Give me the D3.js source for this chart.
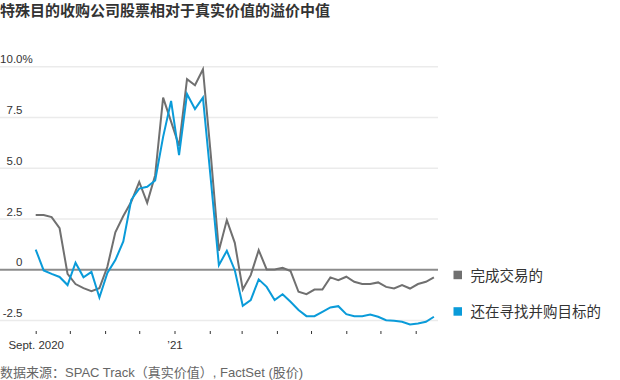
<!DOCTYPE html>
<html><head><meta charset="utf-8">
<script src="https://cdn.jsdelivr.net/npm/d3@7"></script>
<style>
body{margin:0;background:#fff;}
svg{display:block;}
</style></head>
<body><svg id="c" width="620" height="380"></svg>
<script>
const title = "特殊目的收购公司股票相对于真实价值的溢价中值";
const source = "数据来源：SPAC Track（真实价值）, FactSet (股价)";
const dates = ["2020-09-01","2020-09-08","2020-09-15","2020-09-22","2020-09-29","2020-10-06","2020-10-13","2020-10-20","2020-10-27","2020-11-03","2020-11-10","2020-11-17","2020-11-24","2020-12-01","2020-12-08","2020-12-15","2020-12-22","2020-12-29","2021-01-05","2021-01-12","2021-01-19","2021-01-26","2021-02-02","2021-02-09","2021-02-16","2021-02-23","2021-03-02","2021-03-09","2021-03-16","2021-03-23","2021-03-30","2021-04-06","2021-04-13","2021-04-20","2021-04-27","2021-05-04","2021-05-11","2021-05-18","2021-05-25","2021-06-01","2021-06-08","2021-06-15","2021-06-22","2021-06-29","2021-07-06","2021-07-13","2021-07-20","2021-07-27","2021-08-03","2021-08-10","2021-08-17"];
const completed = [2.7,2.7,2.6,2.05,-0.2,-0.7,-0.9,-1.05,-0.9,0.15,1.85,2.65,3.35,4.33,3.3,4.66,8.48,7.3,6.1,9.39,9.09,9.88,5.6,0.94,2.45,1.33,-0.97,-0.26,0.97,0.02,0.02,0.1,-0.06,-1.08,-1.2,-0.97,-0.97,-0.37,-0.51,-0.34,-0.59,-0.7,-0.7,-0.62,-0.84,-0.92,-0.75,-0.92,-0.7,-0.59,-0.37];
const searching = [1.0,-0.03,-0.2,-0.35,-0.75,0.35,-0.37,-0.1,-1.36,-0.15,0.48,1.4,3.45,4.0,4.09,4.4,6.55,8.32,5.65,8.66,7.92,8.48,4.4,0.23,0.94,-0.02,-1.77,-1.49,-0.47,-0.84,-1.49,-1.2,-1.57,-1.98,-2.28,-2.28,-2.07,-1.85,-1.79,-2.18,-2.28,-2.28,-2.2,-2.31,-2.48,-2.51,-2.56,-2.69,-2.64,-2.56,-2.31];
const seriesNames = ["完成交易的","还在寻找并购目标的"];
const seriesColors = ["#707070","#0a9bd9"];
const yTicks = [-2.5,0,2.5,5,7.5,10];
const yTickLabels = ["-2.5","0","2.5","5.0","7.5","10.0"];
const xLabels = {"2020-09":"Sept. 2020","2021-01":"\u201921"};

const svg = d3.select("#c");
const parse = d3.timeParse("%Y-%m-%d");
const dts = dates.map(parse);
const x = d3.scaleTime().domain([dts[0], dts[dts.length-1]]).range([35.7, 433.9]);
const y = d3.scaleLinear().domain([-2.5,10]).range([320.6,66.8]);
const axisFont = "'Liberation Sans Narrow', 'Liberation Sans', sans-serif";

svg.append("text").attr("x",0).attr("y",15.5)
  .attr("font-family","'Noto Sans CJK SC', sans-serif").attr("font-weight","bold")
  .attr("font-size",15).attr("fill","#333").text(title);

// grid
svg.append("g").selectAll("line").data(yTicks.filter(d=>d!==0)).join("line")
  .attr("x1",0).attr("x2",438).attr("y1",d=>y(d)).attr("y2",d=>y(d))
  .attr("stroke","#ebebeb").attr("stroke-width",1.5);
svg.append("line").attr("x1",0).attr("x2",438).attr("y1",y(0)).attr("y2",y(0))
  .attr("stroke","#8c8c8c").attr("stroke-width",2);

// y labels
const yl = svg.append("g").attr("font-family",axisFont)
  .attr("font-size",11.5).attr("fill","#333");
yTicks.forEach((t,i)=>{
  yl.append("text").attr("x",22.5).attr("y",y(t)-3.5).attr("text-anchor","end").text(yTickLabels[i]);
  if(t===10) yl.append("text").attr("x",22.5).attr("y",y(t)-3.5).text("%");
});

// x axis ticks
const months = d3.timeMonth.range(parse("2020-09-01"), parse("2021-08-02"));
const xa = svg.append("g").attr("transform","translate(0,331)")
  .call(d3.axisBottom(x).tickValues(months).tickSize(3).tickPadding(7)
    .tickFormat(d=>xLabels[d3.timeFormat("%Y-%m")(d)]||""));
xa.select(".domain").remove();
xa.selectAll(".tick line").attr("stroke","#333");
xa.selectAll(".tick text").attr("font-family",axisFont)
  .attr("font-size",11.5).attr("fill","#333");

// lines
const line = d3.line().x((d,i)=>x(dts[i])).y(d=>y(d));
[completed, searching].forEach((s,k)=>{
  svg.append("path").datum(s).attr("d",line).attr("fill","none")
    .attr("stroke",seriesColors[k]).attr("stroke-width",2).attr("stroke-linejoin","miter");
});

// legend
const legY = [275, 311.5];
seriesNames.forEach((n,k)=>{
  svg.append("rect").attr("x",453.5).attr("y",legY[k]-4.3).attr("width",8.5).attr("height",8.5).attr("fill",seriesColors[k]);
  svg.append("text").attr("x",470.5).attr("y",legY[k]+5.5)
    .attr("font-family","'Noto Sans CJK SC', sans-serif").attr("font-size",14.5).attr("fill","#333").text(n);
});

svg.append("text").attr("x",0).attr("y",376.5)
  .attr("font-family","'Liberation Sans', 'Noto Sans CJK SC', sans-serif").attr("font-size",13).attr("fill","#666").text(source);
</script></body></html>
